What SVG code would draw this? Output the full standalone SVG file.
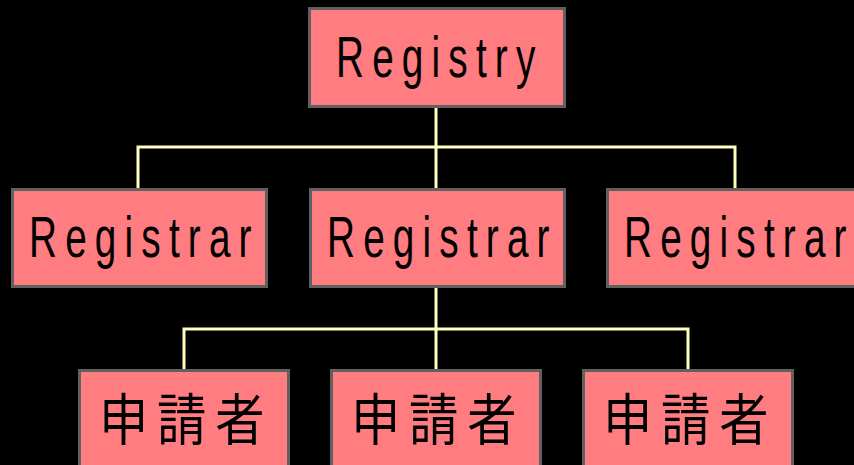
<svg xmlns="http://www.w3.org/2000/svg" width="854" height="465" viewBox="0 0 854 465">
<style>
.box{fill:#FF7C80;stroke:#606060;stroke-width:3}
.lbl{font-family:"Liberation Sans",Arial,sans-serif;font-size:57px;fill:#000;letter-spacing:12px}
.cjk{font-family:"Noto Sans CJK JP","Noto Sans CJK SC",sans-serif;font-size:56px;fill:#000;letter-spacing:10px}
.conn{fill:none;stroke:#FFFFC0;stroke-width:3}
</style>
<rect x="0" y="0" width="854" height="465" fill="#000"/>
<g id="connectors">
<path class="conn" d="M436,106 V189 M138,189 V147 H735 V189"/>
<path class="conn" d="M436,287 V370 M184,370 V329 H688 V370"/>
</g>
<g id="registry">
<rect class="box" x="309.5" y="8.5" width="255" height="98"/>
<text class="lbl" transform="translate(336,77) scale(0.68,1)">Registry</text>
</g>
<g id="registrar1">
<rect class="box" x="12.5" y="189.5" width="254" height="97"/>
<text class="lbl" transform="translate(29,257) scale(0.68,1)">Registrar</text>
</g>
<g id="registrar2">
<rect class="box" x="310.5" y="189.5" width="254" height="97"/>
<text class="lbl" transform="translate(327,257) scale(0.68,1)">Registrar</text>
</g>
<g id="registrar3">
<rect class="box" x="607.5" y="189.5" width="254" height="97"/>
<text class="lbl" transform="translate(624,257) scale(0.68,1)">Registrar</text>
</g>
<g id="applicant1">
<rect class="box" x="79.5" y="370.5" width="209" height="98"/>
<text class="cjk" transform="translate(99,440) scale(0.88,1)">申請者</text>
</g>
<g id="applicant2">
<rect class="box" x="331.5" y="370.5" width="209" height="98"/>
<text class="cjk" transform="translate(351,440) scale(0.88,1)">申請者</text>
</g>
<g id="applicant3">
<rect class="box" x="583.5" y="370.5" width="209" height="98"/>
<text class="cjk" transform="translate(603,440) scale(0.88,1)">申請者</text>
</g>
</svg>
